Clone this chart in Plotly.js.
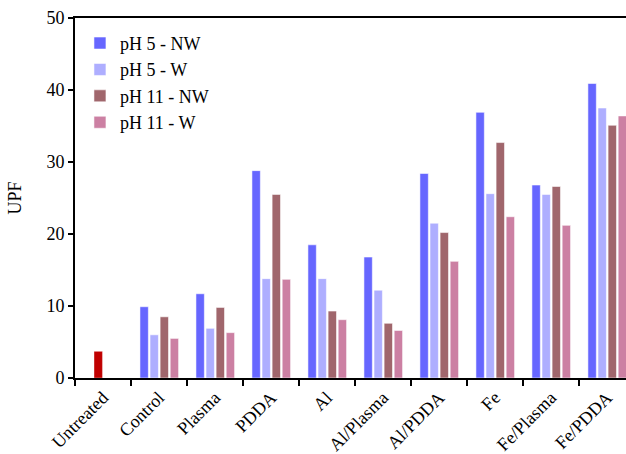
<!DOCTYPE html>
<html>
<head>
<meta charset="utf-8">
<script src="https://cdn.plot.ly/plotly-3.0.1.min.js"></script>
<style>html,body{margin:0;padding:0;background:#fff;}#chart{width:626px;height:454px;}</style>
</head>
<body>
<div id="chart"></div>
<script>
const categories = ['Untreated','Control','Plasma','PDDA','Al','Al/Plasma','Al/PDDA','Fe','Fe/Plasma','Fe/PDDA'];
const treated = ['Control','Plasma','PDDA','Al','Al/Plasma','Al/PDDA','Fe','Fe/Plasma','Fe/PDDA'];
const untreatedValue = [3.7];
const ph5NW  = [9.9, 11.7, 28.8, 18.5, 16.8, 28.4, 36.9, 26.8, 40.9];
const ph5W   = [6.0, 6.9, 13.8, 13.8, 12.2, 21.5, 25.6, 25.5, 37.5];
const ph11NW = [8.5, 9.8, 25.5, 9.3, 7.6, 20.2, 32.7, 26.6, 35.1];
const ph11W  = [5.5, 6.3, 13.7, 8.1, 6.6, 16.2, 22.4, 21.2, 36.4];
const seriesNames = ['pH 5 - NW','pH 5 - W','pH 11 - NW','pH 11 - W'];

const colors = ['#6666ff','#aeaeff','#a0666c','#cc80a3'];
const offsets = [-0.34,-0.16,0.02,0.20];
const barW = 0.15;
const serif = '"Liberation Serif","Times New Roman",serif';

const series = [ph5NW, ph5W, ph11NW, ph11W];
const traces = series.map((vals,i)=>({
  type:'bar', name:seriesNames[i], x:treated, y:vals,
  width:barW, offset:offsets[i],
  marker:{color:colors[i], line:{color:'rgba(255,255,255,0.55)', width:1}}
}));
traces.unshift({
  type:'bar', name:'Untreated', x:['Untreated'], y:untreatedValue,
  width:barW, offset:offsets[1], showlegend:false,
  marker:{color:'#c00000', line:{color:'rgba(255,255,255,0.3)', width:1}}
});

const layout = {
  width:626, height:454,
  margin:{l:75, r:0, t:18, b:76},
  paper_bgcolor:'#fff', plot_bgcolor:'#fff',
  barmode:'overlay',
  font:{family:serif, size:18, color:'#000'},
  xaxis:{
    type:'category', categoryorder:'array', categoryarray:categories,
    range:[-0.5, 9.34], tickangle:-45, tickson:'boundaries',
    ticks:'outside', ticklen:6, tickwidth:2, tickcolor:'#000',
    showline:true, linecolor:'#000', linewidth:2, mirror:true,
    showgrid:false, zeroline:false,
    tickfont:{family:serif, size:18, color:'#000'}
  },
  yaxis:{
    range:[0,50], dtick:10, ticks:'outside', ticklen:5, tickwidth:2, tickcolor:'#000',
    showline:true, linecolor:'#000', linewidth:2,
    showgrid:false, zeroline:false,
    tickfont:{family:serif, size:18, color:'#000'},
    title:{text:'UPF', font:{family:serif, size:18, color:'#000'}, standoff:20}
  },
  legend:{
    x:0.009, y:0.981, xanchor:'left', yanchor:'top',
    bgcolor:'rgba(0,0,0,0)', borderwidth:0,
    font:{family:serif, size:18, color:'#000'},
    tracegroupgap:0, itemwidth:30
  },
  showlegend:true
};

Plotly.newPlot('chart', traces, layout, {displayModeBar:false, staticPlot:true});
</script>
</body>
</html>
